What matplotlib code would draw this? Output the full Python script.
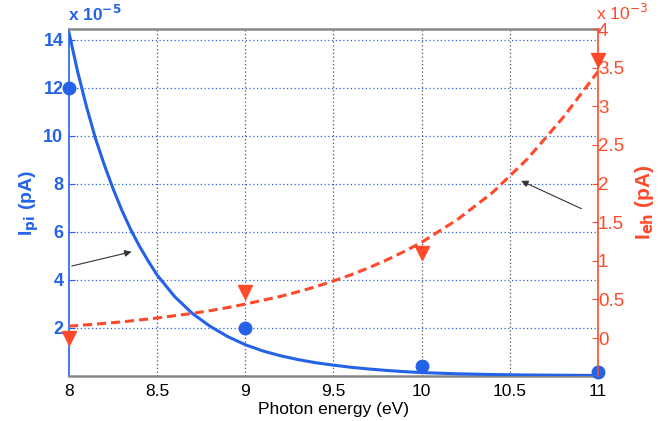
import matplotlib
matplotlib.use("Agg")
import matplotlib.pyplot as plt

plt.rcParams['font.family'] = ['Liberation Sans', 'DejaVu Sans']

# Data
x_curve = [8.0, 8.05, 8.1, 8.15, 8.2, 8.25, 8.3, 8.35, 8.4, 8.45, 8.5, 8.6, 8.7, 8.8, 8.9,
           9.0, 9.1, 9.2, 9.3, 9.4, 9.5, 9.6, 9.7, 9.8, 9.9, 10.0, 10.2, 10.4, 10.6, 10.8, 11.0]
ipi_curve = [14.3, 12.65, 11.2, 9.9, 8.8, 7.8, 6.9, 6.1, 5.4, 4.78, 4.2, 3.3, 2.6, 2.07, 1.64,
             1.3, 1.04, 0.84, 0.68, 0.55, 0.45, 0.36, 0.29, 0.23, 0.18, 0.14, 0.09, 0.06,
             0.04, 0.03, 0.02]
ieh_curve = [0.155, 0.163, 0.172, 0.181, 0.19, 0.2, 0.21, 0.222, 0.235, 0.247, 0.26, 0.29,
             0.32, 0.355, 0.395, 0.44, 0.49, 0.54, 0.60, 0.665, 0.74, 0.82, 0.91, 1.01, 1.12,
             1.24, 1.53, 1.88, 2.32, 2.85, 3.45]
x_meas = [8, 9, 10, 11]
ipi_meas = [12.0, 2.0, 0.4, 0.15]
ieh_meas = [0.0, 0.6, 1.1, 3.6]
x_ticks = [8, 8.5, 9, 9.5, 10, 10.5, 11]
x_ticklabels = ['8', '8.5', '9', '9.5', '10', '10.5', '11']
left_ticks = [2, 4, 6, 8, 10, 12, 14]
right_ticks = [0, 0.5, 1, 1.5, 2, 2.5, 3, 3.5, 4]
right_ticklabels = ['0', '0.5', '1', '1.5', '2', '2.5', '3', '3.5', '4']

blue = '#2463e8'
red = '#ff4a2a'
gray = '#888888'

fig = plt.figure(figsize=(6.67, 4.21), dpi=100)
ax = fig.add_axes([0.1034, 0.107, 0.7932, 0.824])
ax2 = ax.twinx()

ax.plot(x_curve, ipi_curve, color=blue, lw=2.2, zorder=3)
ax.plot(x_meas, ipi_meas, 'o', color=blue, ms=9, clip_on=False, zorder=4)
ax2.plot(x_curve, ieh_curve, color=red, lw=2.2, dashes=(3, 1.6), zorder=3)
ax2.plot(x_meas, ieh_meas, 'v', color=red, ms=9.5, clip_on=False, zorder=4)

ax.set_xlim(8, 11)
ax.set_ylim(0, 14.45)
ax2.set_ylim(-0.49, 4)

ax.set_xticks(x_ticks)
ax.set_xticklabels(x_ticklabels, fontsize=12.5)
ax.set_yticks(left_ticks)
ax.set_yticklabels([str(t) for t in left_ticks], fontsize=13, fontweight='bold', color=blue)
ax2.set_yticks(right_ticks)
ax2.set_yticklabels(right_ticklabels, fontsize=13.5, color=red)

ax.tick_params(axis='x', direction='in', length=0, pad=6)
ax.tick_params(axis='y', direction='in', length=4, color=blue, pad=4)
ax2.tick_params(axis='y', direction='in', length=4, color=red, pad=0)

# grids
for t in left_ticks:
    ax.axhline(t, color=blue, lw=0.9, ls=(0, (1, 2)), zorder=1)
for t in x_ticks[1:-1]:
    ax.axvline(t, color='#555555', lw=0.9, ls=(0, (1, 2)), zorder=1)

for s in ['top', 'bottom']:
    ax.spines[s].set_color(gray)
    ax.spines[s].set_linewidth(1.8)
    ax2.spines[s].set_visible(False)
ax.spines['left'].set_color(blue)
ax.spines['left'].set_linewidth(1.2)
ax.spines['right'].set_visible(False)
ax2.spines['left'].set_visible(False)
ax2.spines['right'].set_color(red)
ax2.spines['right'].set_linewidth(1.2)

ax.set_xlabel('Photon energy (eV)', fontsize=12.5, labelpad=2)
ax.set_ylabel(r'I$_{\mathbf{pi}}$ (pA)', fontsize=14, fontweight='bold', color=blue, labelpad=2)
ax2.set_ylabel(r'I$_{\mathbf{eh}}$ (pA)', fontsize=15, fontweight='bold', color=red, labelpad=6)

fig.text(0.102, 0.966, r'x 10$^{\mathbf{-5}}$', color=blue, fontsize=12.5, fontweight='bold', va='center')
fig.text(0.893, 0.97, r'x 10$^{-3}$', color=red, fontsize=12.5, va='center')

ax.annotate('', xy=(8.37, 5.2), xytext=(8.0, 4.55),
            arrowprops=dict(arrowstyle='-|>', color='#333333', lw=0.8, mutation_scale=10))
ax2.annotate('', xy=(10.55, 2.05), xytext=(10.92, 1.66),
             arrowprops=dict(arrowstyle='-|>', color='#333333', lw=0.8, mutation_scale=10))

fig.savefig('out.png', dpi=100)
